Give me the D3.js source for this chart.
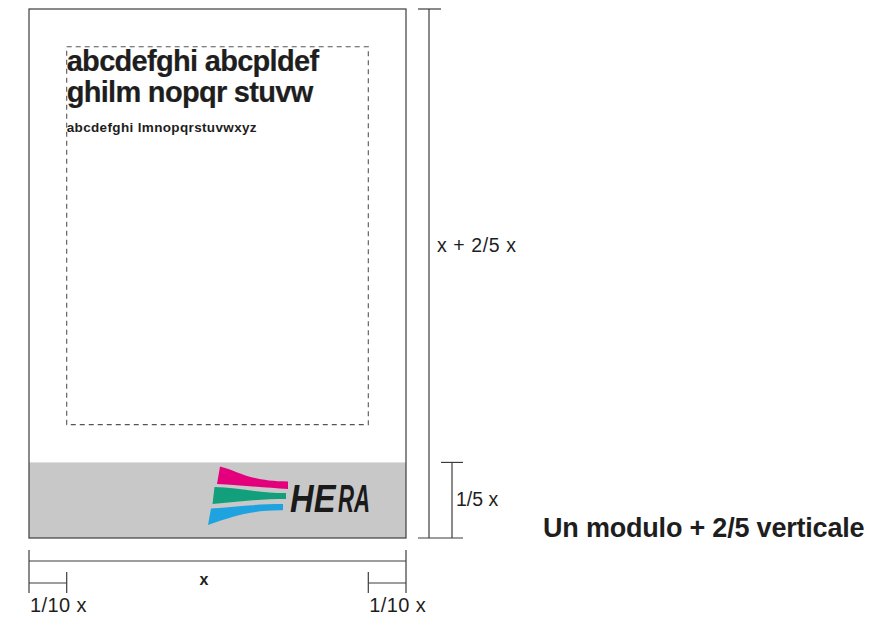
<!DOCTYPE html>
<html>
<head>
<meta charset="utf-8">
<script src="https://cdn.jsdelivr.net/npm/d3@7"></script>
<style>
  html, body { margin: 0; padding: 0; background: #fff; }
  svg { display: block; font-family: "Liberation Sans", Arial, Helvetica, sans-serif; }
</style>
</head>
<body>
<div id="chart"></div>
<script>
// module proportions, in units of the module width x
const MODULE = [1, 1 + 2 / 5];          // width, height
const BAND = [1 / 5];                   // grey logo band height
const MARGIN = [1 / 10];                // inner margin
const HEAD_LINES = ['abcdefghi abcpldef', 'ghilm nopqr stuvw'];
const BODY_LINES = ['abcdefghi lmnopqrstuvwxyz'];
const DIM_LABELS = ['x', '1/10 x', 'x + 2/5 x', '1/5 x'];
const CAPTION = ['Un modulo + 2/5 verticale'];
const LOGO_WORD = ['HE', 'RA'];

const W = 893, H = 618;
const LINE = '#3c3c3c';

const svg = d3.select('#chart').append('svg')
  .attr('width', W).attr('height', H).attr('viewBox', `0 0 ${W} ${H}`);

const x = d3.scaleLinear().domain([0, MODULE[0]]).range([29, 406]);
const y = d3.scaleLinear().domain([0, MODULE[1]]).range([9, 538]);

const band = BAND[0], mg = MARGIN[0];

// grey band
svg.append('rect')
  .attr('x', x(0)).attr('y', y(MODULE[1] - band))
  .attr('width', x(MODULE[0]) - x(0)).attr('height', y(MODULE[1]) - y(MODULE[1] - band))
  .attr('fill', '#c8c8c9');

// module outline
svg.append('rect')
  .attr('x', x(0)).attr('y', y(0))
  .attr('width', x(MODULE[0]) - x(0)).attr('height', y(MODULE[1]) - y(0))
  .attr('fill', 'none').attr('stroke', LINE).attr('stroke-width', 1.2);

// dashed text area
svg.append('rect')
  .attr('x', x(mg)).attr('y', y(mg))
  .attr('width', x(MODULE[0] - mg) - x(mg))
  .attr('height', y(MODULE[1] - band - mg) - y(mg))
  .attr('fill', 'none').attr('stroke', '#555').attr('stroke-width', 1.1)
  .attr('stroke-dasharray', '5,4');

// sample text
const tx = x(mg);
svg.append('g').selectAll('text').data(HEAD_LINES).join('text')
  .attr('x', tx).attr('y', (d, i) => 71 + i * 31)
  .attr('font-size', 29).attr('font-weight', 700).attr('letter-spacing', -0.7)
  .attr('stroke', '#1e1e1e').attr('stroke-width', 0.2)
  .attr('fill', '#1e1e1e').text(d => d);
svg.append('text')
  .attr('x', tx).attr('y', 132)
  .attr('font-size', 13.5).attr('font-weight', 700).attr('letter-spacing', 0.35)
  .attr('fill', '#1e1e1e').text(BODY_LINES[0]);

// logo
const logo = svg.append('g').attr('transform', 'translate(205,462)');
const bands = [
  ['#e4007d', 'M15,4.5 C33,9 45,19.5 83,19.5 L83,27 C60,26 35,23 12,22 Z'],
  ['#12a07c', 'M9.5,25 C32,25.5 52,31 81,31 L81,37 C52,37 30,40 7.5,42 Z'],
  ['#1fa3e0', 'M6,46.5 C30,45 50,42 78,42 L78,48.3 C45,48 25,55 3,63 Z']
];
logo.selectAll('path').data(bands).join('path')
  .attr('d', d => d[1]).attr('fill', d => d[0]);
// [x offset, horizontal squeeze, weight]
const heraPos = [[85, 0.84, 900], [133, 0.57, 700]];
logo.selectAll('text').data(LOGO_WORD).join('text')
  .attr('transform', (d, i) => `translate(${heraPos[i][0]},49.5) scale(${heraPos[i][1]},1)`)
  .attr('font-size', 39).attr('font-style', 'italic')
  .attr('font-weight', (d, i) => heraPos[i][2])
  .attr('fill', '#1a1a1a').text(d => d);

// vertical dimension: full height
const vx1 = 429, vx2 = 452;
const dim = svg.append('g').attr('stroke', LINE).attr('stroke-width', 1.2);
dim.append('line').attr('x1', vx1).attr('x2', vx1).attr('y1', y(0)).attr('y2', y(MODULE[1]));
dim.append('line').attr('x1', 418).attr('x2', 441).attr('y1', y(0)).attr('y2', y(0));
dim.append('line').attr('x1', 418).attr('x2', 463).attr('y1', y(MODULE[1])).attr('y2', y(MODULE[1]));
// band height
dim.append('line').attr('x1', vx2).attr('x2', vx2).attr('y1', y(MODULE[1] - band)).attr('y2', y(MODULE[1]));
dim.append('line').attr('x1', 441).attr('x2', 463).attr('y1', y(MODULE[1] - band)).attr('y2', y(MODULE[1] - band));

// horizontal dimension: width
const hy1 = 561, hy2 = 583;
dim.append('line').attr('x1', x(0)).attr('x2', x(MODULE[0])).attr('y1', hy1).attr('y2', hy1);
dim.append('line').attr('x1', x(0)).attr('x2', x(0)).attr('y1', 550).attr('y2', 593);
dim.append('line').attr('x1', x(MODULE[0])).attr('x2', x(MODULE[0])).attr('y1', 550).attr('y2', 593);
// margins
dim.append('line').attr('x1', x(0)).attr('x2', x(mg)).attr('y1', hy2).attr('y2', hy2);
dim.append('line').attr('x1', x(mg)).attr('x2', x(mg)).attr('y1', 572).attr('y2', 593);
dim.append('line').attr('x1', x(MODULE[0] - mg)).attr('x2', x(MODULE[0])).attr('y1', hy2).attr('y2', hy2);
dim.append('line').attr('x1', x(MODULE[0] - mg)).attr('x2', x(MODULE[0] - mg)).attr('y1', 572).attr('y2', 593);

// dimension labels
const lab = svg.append('g').attr('fill', '#1e1e1e');
lab.append('text').attr('x', 204).attr('y', 585).attr('text-anchor', 'middle')
  .attr('font-size', 16).attr('font-weight', 700).text(DIM_LABELS[0]);
lab.append('text').attr('x', x(0) + 1).attr('y', 612)
  .attr('font-size', 20).attr('letter-spacing', 0.4).text(DIM_LABELS[1]);
lab.append('text').attr('x', x(MODULE[0] - mg) + 1).attr('y', 612)
  .attr('font-size', 20).attr('letter-spacing', 0.4).text(DIM_LABELS[1]);
lab.append('text').attr('x', 437).attr('y', 252)
  .attr('font-size', 19.5).attr('letter-spacing', 0.6).text(DIM_LABELS[2]);
lab.append('text').attr('x', 456).attr('y', 506)
  .attr('font-size', 19.5).text(DIM_LABELS[3]);

// caption
svg.append('text').attr('x', 543).attr('y', 537)
  .attr('font-size', 27).attr('font-weight', 700).attr('letter-spacing', -0.2)
  .attr('fill', '#1e1e1e').text(CAPTION[0]);
</script>
</body>
</html>
